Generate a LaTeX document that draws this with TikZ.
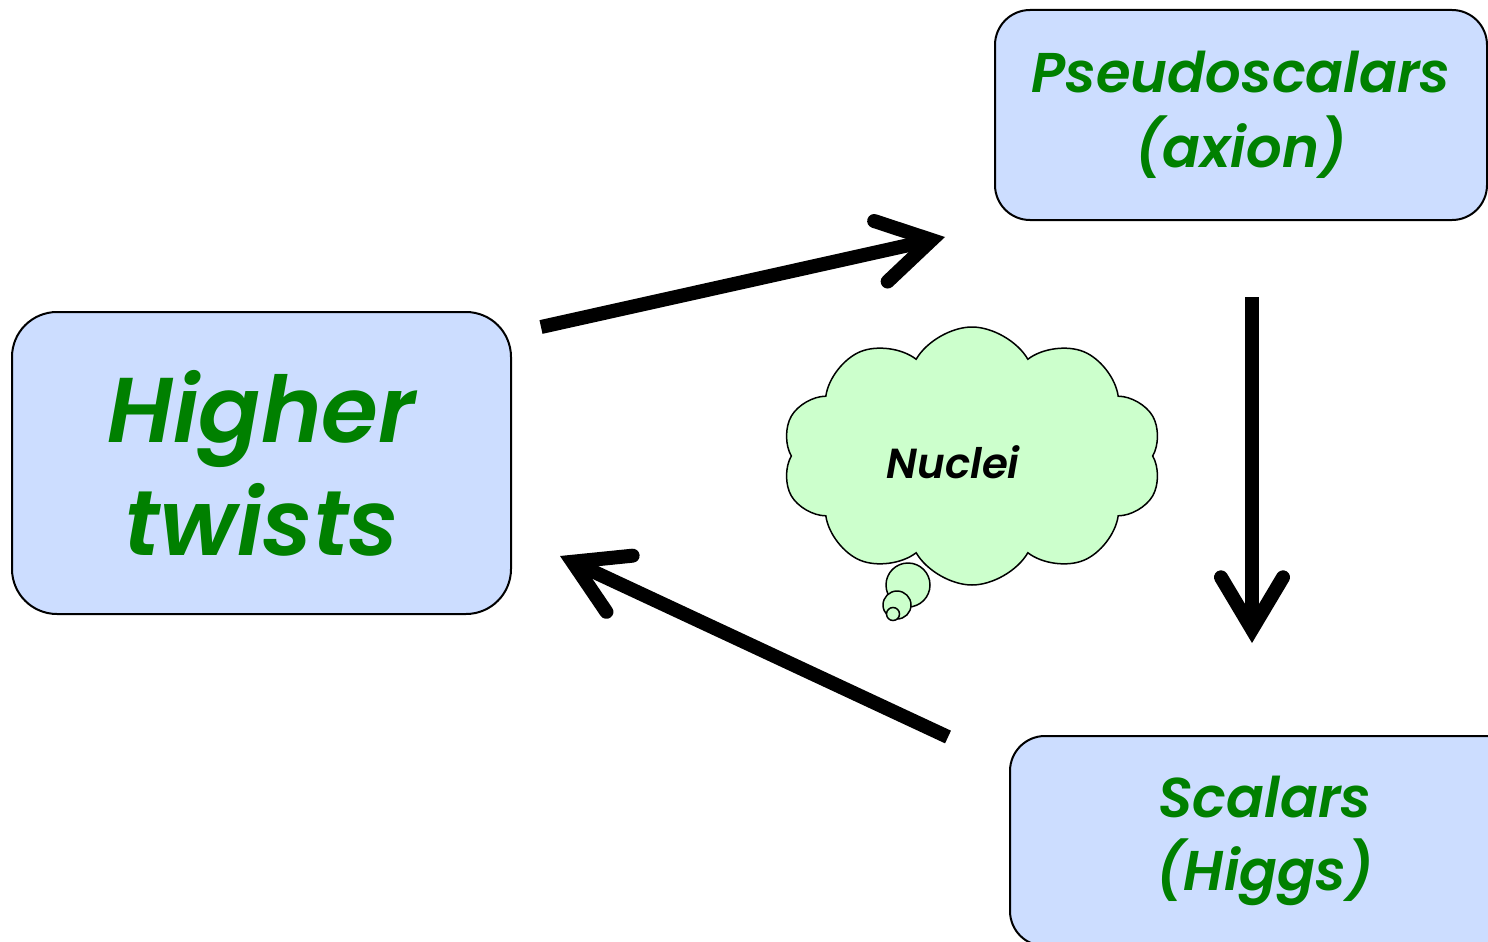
\documentclass[tikz,border=0pt]{standalone}
\usepackage{fontspec}
\setmainfont{Poppins}[BoldItalicFont={Poppins SemiBold Italic}]
\usetikzlibrary{arrows.meta,shapes.symbols}
\definecolor{boxblue}{RGB}{204,221,255}
\definecolor{cloudgreen}{RGB}{204,255,204}
\definecolor{txtgreen}{RGB}{0,128,0}
\tikzset{
  box/.style={draw=black, line width=2pt, fill=boxblue, rounded corners=45pt, align=center,
    text=txtgreen, inner sep=0pt},
  bigarrow/.style={line width=14pt, -{Straight Barb[length=52pt, width=62pt, line cap=round]}},
  bubble/.style={circle, draw=black, line width=1.5pt, fill=cloudgreen, inner sep=0pt}
}
\begin{document}
\begin{tikzpicture}[x=1pt,y=-1pt]
\useasboundingbox (0,0) rectangle (1488,942);
\clip (0,0) rectangle (1488,942);
\fill[white] (0,0) rectangle (1488,942);
% boxes
\node[box, minimum width=499pt, minimum height=302pt,
  font=\fontsize{92}{113}\selectfont\bfseries\itshape] (ht) at (261.5,463)
  {Higher\\twists};
\node[box, minimum width=492pt, minimum height=210pt, rounded corners=35pt,
  font=\fontsize{56}{75}\selectfont\bfseries\itshape] (ps) at (1241,115)
  {Pseudoscalars\\(axion)};
\node[box, minimum width=510pt, minimum height=210pt, rounded corners=35pt,
  font=\fontsize{56}{73}\selectfont\bfseries\itshape] (sc) at (1265,841)
  {Scalars\\(Higgs)};
% cloud
\node[cloud, cloud puffs=10, cloud puff arc=120, draw=black, line width=1.5pt, fill=cloudgreen,
  minimum width=380pt, minimum height=258pt, inner sep=0pt] (nu) at (972,456) {};
\node[font=\fontsize{42}{50}\selectfont\bfseries\itshape, inner sep=0pt] (nut) at (953,462) {Nuclei};
\node[bubble, minimum size=44pt] (b1) at (908,585) {};
\node[bubble, minimum size=28pt] (b2) at (897,605) {};
\node[bubble, minimum size=13pt] (b3) at (893,614) {};
% arrows
\coordinate (a1s) at (541,327);
\coordinate (a1e) at (945,237);
\coordinate (a2s) at (1252,297);
\coordinate (a2e) at (1252,643);
\coordinate (a3s) at (948,737);
\coordinate (a3e) at (560,556);
\draw[bigarrow] (a1s) -- (a1e);
\draw[bigarrow] (a2s) -- (a2e);
\draw[bigarrow] (a3s) -- (a3e);
\end{tikzpicture}
\end{document}
